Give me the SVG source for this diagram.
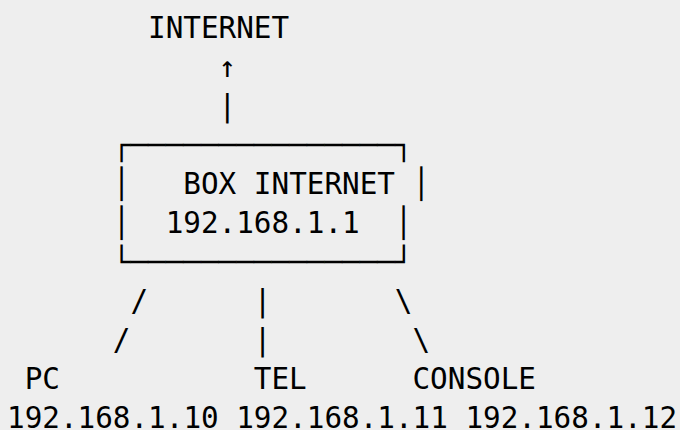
<svg xmlns="http://www.w3.org/2000/svg" width="680" height="430" viewBox="0 0 680 430">
<style>
text { font-family: "DejaVu Sans Mono", "Liberation Mono", monospace; font-size: 29.3px; fill: #000; }
</style>
<rect width="680" height="430" fill="#eeeeee"/>
<g id="internet">
<text x="148.04" y="38">INTERNET</text>
</g>
<g id="box">
<text x="112.78" y="155">┌───────────────┐</text>
<text x="112.78" y="194">│</text>
<text x="183.3" y="194">BOX INTERNET</text>
<text x="412.49" y="194">│</text>
<text x="112.78" y="233">│</text>
<text x="165.67" y="233">192.168.1.1</text>
<text x="394.86" y="233">│</text>
<text x="112.78" y="272">└───────────────┘</text>
</g>
<g id="connectors">
<text x="218.56" y="77">↑</text>
<text x="218.56" y="116">|</text>
<text x="130.41" y="311">/</text>
<text x="253.82" y="311">|</text>
<text x="394.86" y="311">\</text>
<text x="112.78" y="350">/</text>
<text x="253.82" y="350">|</text>
<text x="412.49" y="350">\</text>
</g>
<g id="pc">
<text x="24.63" y="389">PC</text>
<text x="7" y="428">192.168.1.10</text>
</g>
<g id="tel">
<text x="253.82" y="389">TEL</text>
<text x="236.19" y="428">192.168.1.11</text>
</g>
<g id="console">
<text x="412.49" y="389">CONSOLE</text>
<text x="465.38" y="428">192.168.1.12</text>
</g>
</svg>
